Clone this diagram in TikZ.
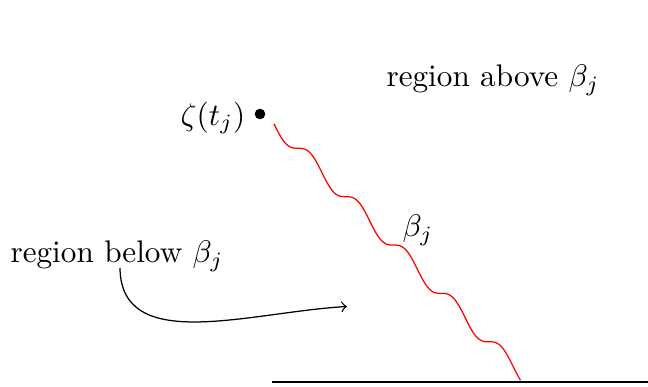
\documentclass[tikz,border=0pt]{standalone}
\begin{document}
\begin{tikzpicture}[x=0.3205pt,y=-0.3205pt,
  lbl/.style={inner sep=0pt},
  dotnode/.style={circle,fill=black,inner sep=0pt,minimum size=3.4pt},
  wave/.style={red},
  pointer/.style={->}]
\useasboundingbox (0,0) rectangle (648,387);
\node[dotnode] (dot) at (260,114) {};
\node[lbl] (zeta) at (213,118) {$\zeta(t_j)$};
\draw[wave] plot[domain=274:520.5,samples=300,smooth]
  (\x,{148.3+1.013*(\x-298)-7.7*sin(7.5393*(\x-298))});
\node[lbl] (beta) at (418,230) {$\beta_j$};
\node[lbl] (above) at (493,80) {region above $\beta_j$};
\node[lbl] (below) at (117,256) {region below $\beta_j$};
\coordinate (bs) at (120,268);
\coordinate (ae) at (347,306.5);
\draw[pointer] (bs) .. controls (121,355) and (250,312) .. (ae);
\coordinate (ls) at (272,382);
\coordinate (le) at (648,382);
\draw (ls) -- (le);
\end{tikzpicture}
\end{document}
